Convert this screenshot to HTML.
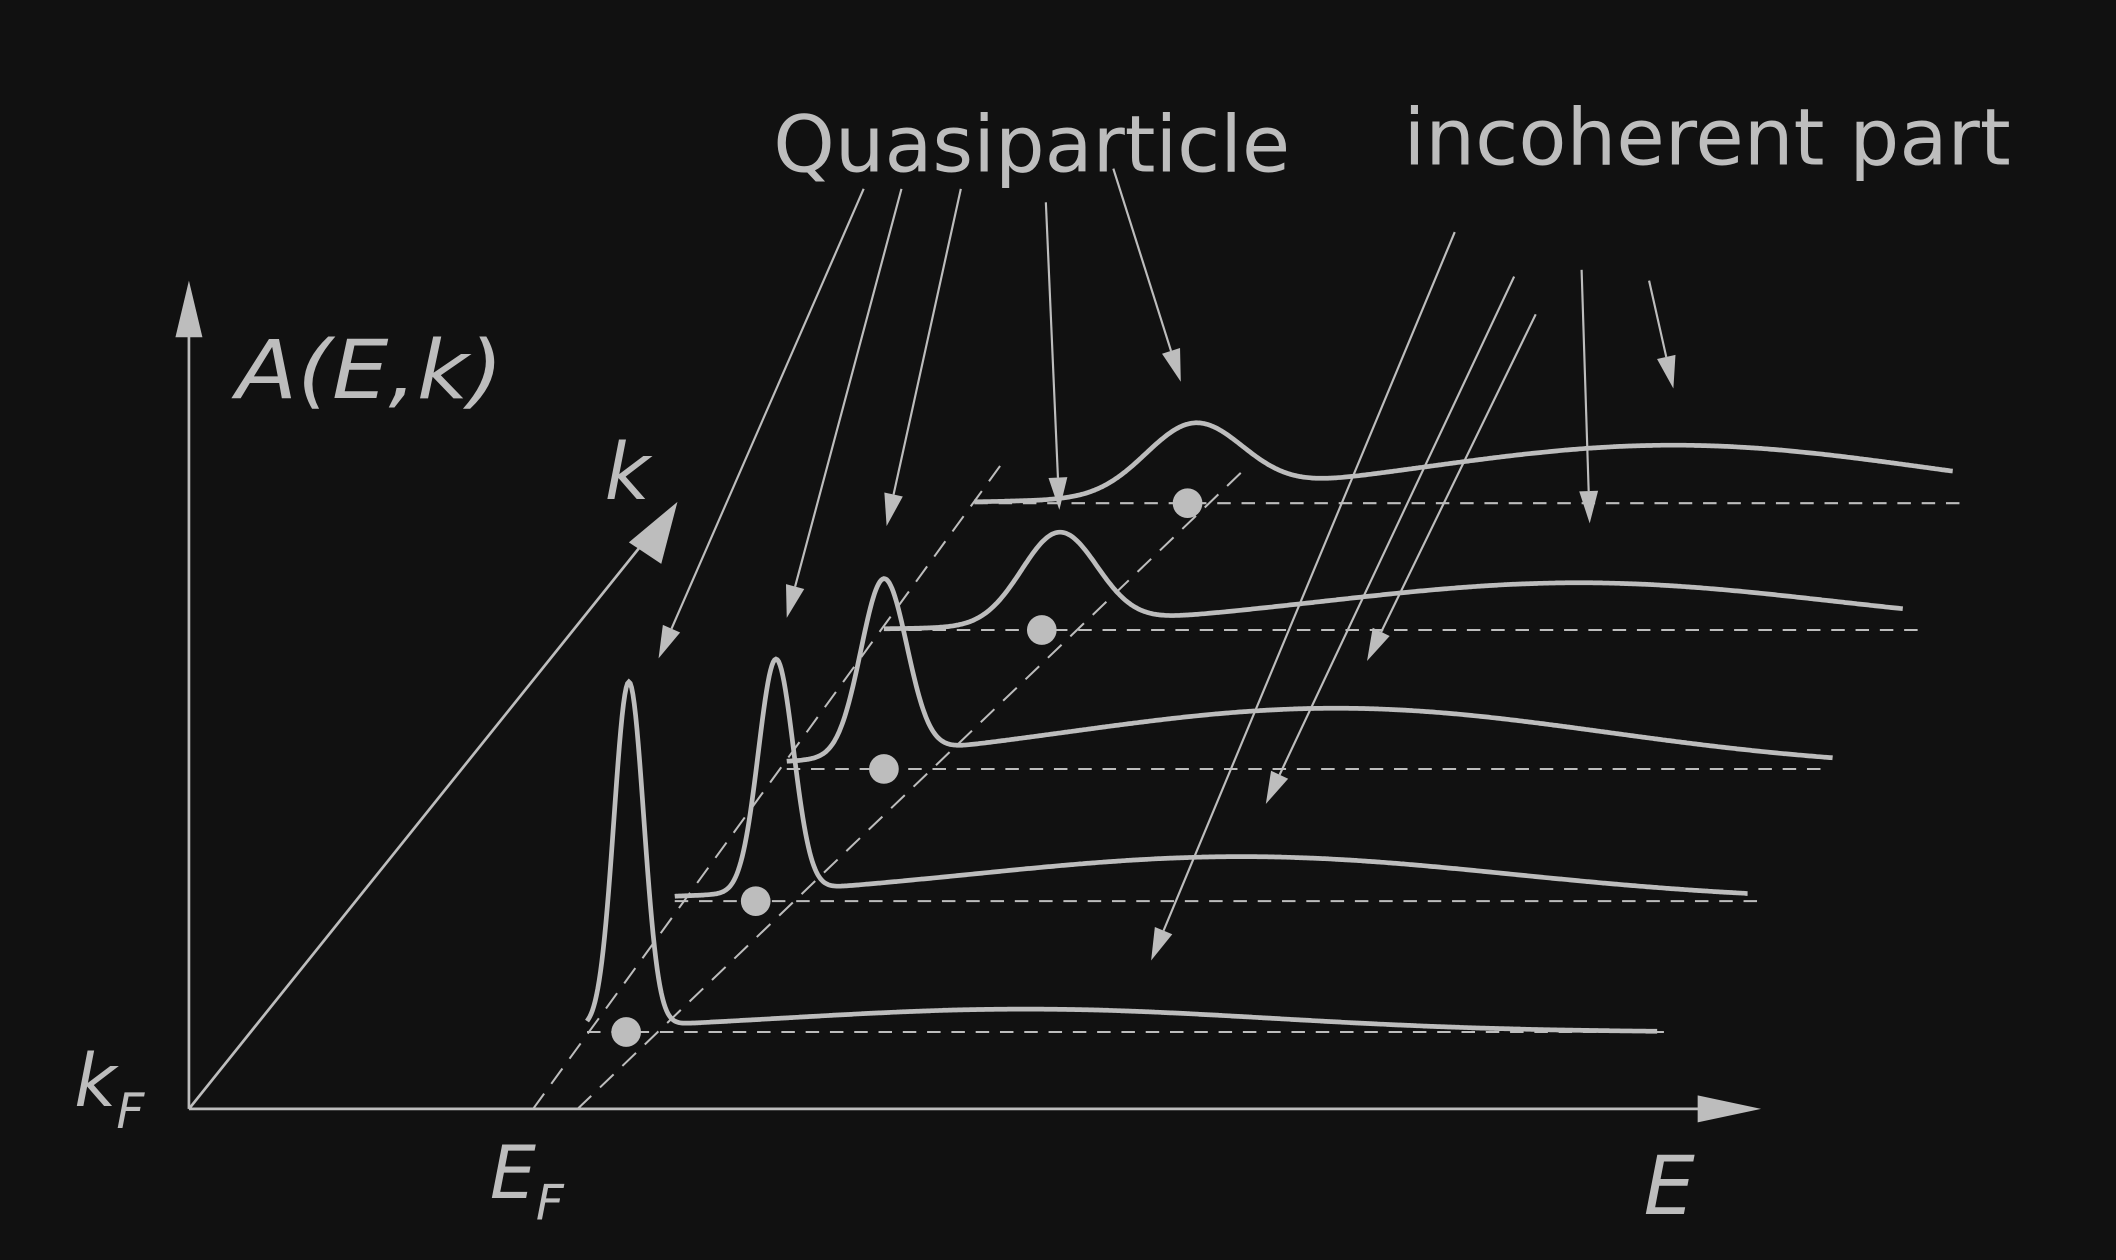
<!DOCTYPE html>
<html><head><meta charset="utf-8"><style>
html,body{margin:0;padding:0;background:#111;}
svg{display:block;}
text{font-family:"DejaVu Sans","Liberation Sans",sans-serif;fill:#bdbdbd;}
</style></head><body>
<svg id="chart" width="2116" height="1260" viewBox="0 0 1568 934" preserveAspectRatio="none" xmlns="http://www.w3.org/2000/svg">
<rect width="1568" height="934" fill="#111111"/>
<g id="axes" stroke="#bdbdbd" fill="#bdbdbd">
<line x1="140" y1="822" x2="140" y2="240" stroke-width="2"/>
<polygon points="140,208 130,250 150,250" stroke="none"/>
<line x1="140" y1="822" x2="1270" y2="822" stroke-width="2"/>
<polygon points="1305,822 1258,812 1258,832" stroke="none"/>
<line x1="140" y1="822" x2="485" y2="392" stroke-width="2"/>
<polygon points="502,372 466,402 490,418" stroke="none"/>
</g>
<text x="175" y="295" font-size="60" font-style="italic" textLength="198" lengthAdjust="spacingAndGlyphs">A(E,k)</text>
<text x="448" y="370" font-size="58" font-style="italic">k</text>
<text x="55" y="820" font-size="54" font-style="italic">k<tspan font-size="36" dy="16">F</tspan></text>
<text x="363" y="888" font-size="54" font-style="italic">E<tspan font-size="36" dy="16">F</tspan></text>
<text x="1218" y="900" font-size="60" font-style="italic">E</text>
<text x="573" y="127" font-size="58" textLength="383" lengthAdjust="spacingAndGlyphs">Quasiparticle</text>
<text x="1040" y="122" font-size="58" textLength="450" lengthAdjust="spacingAndGlyphs">incoherent part</text>
<g id="dash" stroke="#bdbdbd" stroke-width="1.5" stroke-dasharray="14,9" fill="none">
<line x1="395" y1="822" x2="745" y2="340"/>
<line x1="428" y1="822" x2="920" y2="350"/>
</g>
<g id="series"></g>
<g id="arrows"></g>
</svg>
<script>
var baselineY = [765, 668, 570, 467, 373];
var startX = [435, 500, 583, 655, 722];
var endX = [1228, 1295, 1358, 1410, 1447];
var dashEndX = [1233, 1303, 1355, 1428, 1455];
var peakX = [466, 575, 655, 785, 885];
var peakHeight = [255, 172, 130, 68, 52];
var peakWidth = [11, 13, 17, 28, 36];
var humpX = [760, 920, 990, 1170, 1240];
var humpHeight = [17, 33, 45, 35, 43];
var humpWidth = [180, 200, 200, 190, 190];
var dotX = [464, 560, 655, 772, 880];
var arrowFromX = [640, 668, 712, 775, 825, 1078, 1122, 1138, 1172, 1222];
var arrowFromY = [140, 140, 140, 150, 125, 172, 205, 233, 200, 208];
var arrowToX = [488, 583, 657, 785, 875, 853, 938, 1013, 1178, 1240];
var arrowToY = [488, 458, 390, 378, 283, 712, 596, 490, 388, 288];
var NS = 'http://www.w3.org/2000/svg';
var gS = document.getElementById('series');
var C = '#bdbdbd';
for (var i = 0; i < baselineY.length; i++) {
  var b = baselineY[i];
  var dl = document.createElementNS(NS, 'line');
  
  
  dl.setAttribute('x1', startX[i]); dl.setAttribute('x2', dashEndX[i]);
  dl.setAttribute('y1', b); dl.setAttribute('y2', b);
  dl.setAttribute('stroke', C); dl.setAttribute('stroke-width', '1.5'); dl.setAttribute('stroke-dasharray', '10,8');
  gS.appendChild(dl);
  var d = '';
  for (var x = startX[i]; x <= endX[i]; x += 1) {
    var u = (x - peakX[i]) / peakWidth[i];
    var p = peakHeight[i] * Math.exp(-u * u / 2);
    var v = (x - humpX[i]) / humpWidth[i];
    var h = humpHeight[i] * Math.exp(-v * v / 2);
    var y = b - p - h;
    d += (d ? 'L' : 'M') + x + ',' + y.toFixed(1);
  }
  var pa = document.createElementNS(NS, 'path');
  
  
  pa.setAttribute('d', d); pa.setAttribute('fill', 'none'); pa.setAttribute('stroke', C); pa.setAttribute('stroke-width', '3.5');
  gS.appendChild(pa);
  var c = document.createElementNS(NS, 'circle');
  
  
  c.setAttribute('cx', dotX[i]); c.setAttribute('cy', b); c.setAttribute('r', '11'); c.setAttribute('fill', C);
  gS.appendChild(c);
}
var gA = document.getElementById('arrows');
for (var j = 0; j < arrowFromX.length; j++) {
  var x1 = arrowFromX[j], y1 = arrowFromY[j], x2 = arrowToX[j], y2 = arrowToY[j];
  var dx = x2 - x1, dy = y2 - y1, L = Math.sqrt(dx * dx + dy * dy), ux = dx / L, uy = dy / L;
  var hl = 24, hw = 7;
  var bx = x2 - ux * hl, by = y2 - uy * hl;
  var ln = document.createElementNS(NS, 'line');
  
  
  ln.setAttribute('x1', x1); ln.setAttribute('y1', y1); ln.setAttribute('x2', bx); ln.setAttribute('y2', by);
  ln.setAttribute('stroke', C); ln.setAttribute('stroke-width', '1.6');
  gA.appendChild(ln);
  var hd = document.createElementNS(NS, 'polygon');
  
  
  hd.setAttribute('points', x2 + ',' + y2 + ' ' + (bx - uy * hw) + ',' + (by + ux * hw) + ' ' + (bx + uy * hw) + ',' + (by - ux * hw));
  hd.setAttribute('fill', C);
  gA.appendChild(hd);
}
</script>
</body></html>
